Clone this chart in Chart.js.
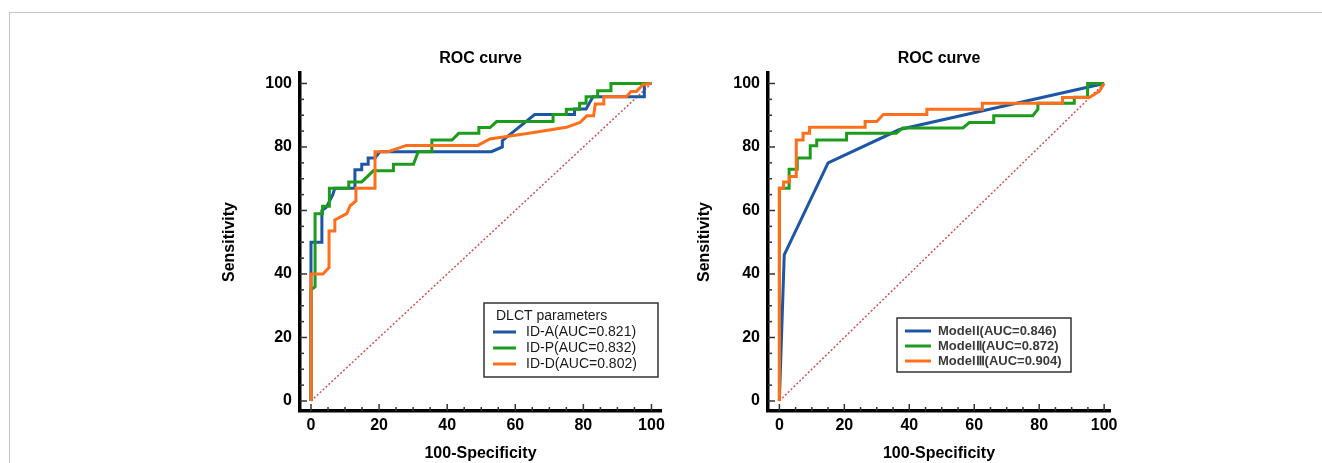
<!DOCTYPE html>
<html>
<head>
<meta charset="utf-8">
<script src="https://cdn.jsdelivr.net/npm/chart.js@4.4.1/dist/chart.umd.min.js"></script>
<style>
  html, body { margin: 0; padding: 0; background: #fff; width: 1322px; height: 463px; overflow: hidden; }
  #frame { position: absolute; left: 9px; top: 12px; right: 0; bottom: 0; border-top: 1px solid #c4c4c4; border-left: 1px solid #c4c4c4; }
  canvas { position: absolute; }
</style>
</head>
<body>
<div id="frame"></div>
<canvas id="c1" width="480" height="433" style="left:200px;top:30px;width:480px;height:433px"></canvas>
<canvas id="c2" width="460" height="433" style="left:680px;top:30px;width:460px;height:433px"></canvas>
<script>
// ---------- DATA ----------
const xTicks = [0, 20, 40, 60, 80, 100];
const yTicks = [0, 20, 40, 60, 80, 100];
const diagonal = [[0, 0], [100, 100]];

// Left chart: DLCT parameters
const leftLabels = ['ID-A(AUC=0.821)', 'ID-P(AUC=0.832)', 'ID-D(AUC=0.802)'];
const idA = [[0,0],[0,50],[3.2,50],[3.2,60],[4.5,61],[6.4,65],[7,67],[12.9,67],[12.9,72.8],[14.9,72.8],[14.9,74.6],[16.8,74.6],[16.8,76.5],[18.8,76.5],[20.2,78.5],[53,78.5],[56.2,80],[56.2,82],[65.7,90.2],[77.4,90.2],[77.4,92],[80.8,92],[82.8,95.8],[97.9,95.8],[97.9,100],[100,100]];
const idP = [[0,0],[0,35],[1.2,36],[1.2,59],[3.4,59],[3.4,61.3],[5.4,61.3],[5.4,67],[11.1,67],[11.1,69],[14.9,69],[18.3,72.5],[24.2,72.5],[24.2,74.6],[30.1,74.6],[31.5,78.5],[35.5,78.5],[35.5,82.2],[41.4,82.2],[43.4,84.3],[49.3,84.3],[49.3,86.1],[52.6,86.1],[54.5,88],[71.1,88],[71.1,90.2],[75,90.2],[75,91.9],[78.9,91.9],[78.9,93.8],[80.8,93.8],[80.8,95.8],[84.2,95.8],[84.2,97.7],[88.1,97.7],[88.1,100],[100,100]];
const idD = [[0,0],[0,40],[3.5,40],[5.3,42],[5.3,53.5],[7,53.5],[7,57],[10.5,59],[11.5,61.5],[13.2,63],[13.2,67],[18.8,67],[18.8,78.5],[22.7,78.5],[28,80.5],[49,80.5],[52.5,82.5],[64,84.3],[75,86.2],[79,87.7],[81,89.8],[83,89.8],[83.5,93.5],[86,93.5],[86,95.8],[92.6,95.8],[94,97.5],[95.6,97.5],[97.5,99.6],[100,100]];

// Right chart: Models
const rightLabels = ['Model\u2160(AUC=0.846)', 'Model\u2161(AUC=0.872)', 'Model\u2162(AUC=0.904)'];
const model1 = [[0,0],[1.5,46],[15,75],[37,85.5],[100,100]];
const model2 = [[0,0],[0,67],[3,67],[3,73],[5.5,73],[5.5,76.5],[9.5,76.5],[9.5,80.4],[11.5,80.4],[11.5,82.2],[20.7,82.2],[20.7,84.3],[36,84.3],[38,86],[56.5,86],[58.5,87.7],[66,87.7],[66,89.8],[78,89.8],[79.6,91.9],[79.6,93.8],[90.8,93.8],[90.8,95.7],[94.9,95.7],[94.9,100],[100,100]];
const model3 = [[0,0],[0,67],[1.3,67],[1.3,69],[3.1,69],[3.1,70.7],[5.2,70.7],[5.2,82.2],[7.3,82.2],[7.3,84.3],[9.3,84.3],[9.3,86.2],[26.4,86.2],[26.4,88],[30,88],[32,90.2],[45.4,90.2],[45.4,91.9],[62.5,91.9],[62.5,93.8],[87.2,93.8],[87.2,95.6],[95.4,95.6],[98.5,97.5],[100,100]];

// ---------- STYLE ----------
const FONT = '"Liberation Sans", Arial, sans-serif';
const BLUE = '#1d56a3', GREEN = '#1c9b1c', ORANGE = '#ff6f1c', DIAG = '#c8545a';
const toXY = arr => arr.map(p => ({ x: p[0], y: p[1] }));

const tickMarks = {
  id: 'tickMarks',
  afterDraw(chart) {
    const { ctx, chartArea: ca, scales: { x, y } } = chart;
    ctx.save();
    ctx.strokeStyle = '#333';
    ctx.lineWidth = 1.5;
    for (let v = 0; v <= 100; v += 5) {
      const L = v % 20 === 0 ? 7 : 4;
      const px = x.getPixelForValue(v);
      ctx.beginPath(); ctx.moveTo(px, ca.bottom); ctx.lineTo(px, ca.bottom - L); ctx.stroke();
      const py = y.getPixelForValue(v);
      ctx.beginPath(); ctx.moveTo(ca.left, py); ctx.lineTo(ca.left + L, py); ctx.stroke();
    }
    ctx.restore();
  }
};

const boxLegend = {
  id: 'boxLegend',
  afterDraw(chart, args, o) {
    const ctx = chart.ctx;
    ctx.save();
    ctx.strokeStyle = '#333';
    ctx.lineWidth = 1.5;
    ctx.strokeRect(o.box[0], o.box[1], o.box[2], o.box[3]);
    ctx.fillStyle = '#1a1a1a';
    ctx.textBaseline = 'middle';
    ctx.textAlign = 'left';
    if (o.title) {
      ctx.font = o.titleFont;
      ctx.fillText(o.title, o.titlePos[0], o.titlePos[1]);
    }
    ctx.font = o.font;
    const ds = chart.data.datasets.filter(d => !d.isDiag);
    ds.forEach((d, i) => {
      const yy = o.rows[i];
      ctx.strokeStyle = d.borderColor;
      ctx.lineWidth = 3;
      ctx.beginPath(); ctx.moveTo(o.sample[0], yy); ctx.lineTo(o.sample[1], yy); ctx.stroke();
      ctx.fillStyle = o.textColor || '#1a1a1a';
      ctx.fillText(d.label, o.textX, yy + 0.5);
    });
    ctx.restore();
  }
};

function makeChart(id, cfg) {
  const tickFont = { family: FONT, size: 16, weight: 'bold' };
  const datasets = cfg.series.map((s, i) => ({
    label: cfg.labels[i], data: toXY(s), borderColor: cfg.colors[i], borderWidth: 3,
    showLine: true, pointRadius: 0, fill: false, tension: 0, order: cfg.orders[i]
  }));
  datasets.push({ label: 'ref', isDiag: true, data: toXY(diagonal), borderColor: DIAG, borderWidth: 1.5,
    borderDash: [2, 2], showLine: true, pointRadius: 0, fill: false, order: 10 });
  return new Chart(document.getElementById(id), {
    type: 'scatter',
    data: { datasets },
    options: {
      responsive: false, animation: false, devicePixelRatio: 1,
      layout: { padding: { left: 0, right: cfg.padRight, top: 0, bottom: 0 } },
      plugins: {
        legend: { display: false }, tooltip: { enabled: false },
        title: { display: true, text: 'ROC curve', color: '#000', fullSize: false,
          font: { family: FONT, size: 16, weight: 'bold' }, padding: { top: 19, bottom: 4.8 } },
        boxLegend: cfg.legend
      },
      scales: {
        x: {
          type: 'linear', min: cfg.xMin, max: cfg.xMax,
          afterBuildTicks: s => { s.ticks = xTicks.map(v => ({ value: v })); },
          afterFit: s => { s.height = 52; },
          grid: { display: false, drawTicks: false },
          border: { display: true, color: '#000', width: 3.5 },
          ticks: { padding: 5, color: '#000', font: tickFont, maxRotation: 0, autoSkip: false },
          title: { display: true, text: '100-Specificity', color: '#000', font: tickFont, padding: { top: 0, bottom: 0 } }
        },
        y: {
          type: 'linear', min: -3.15, max: 103.3,
          afterBuildTicks: s => { s.ticks = yTicks.map(v => ({ value: v })); },
          afterFit: s => { s.width = cfg.yWidth; },
          grid: { display: false, drawTicks: false },
          border: { display: true, color: '#000', width: 3.5 },
          ticks: { padding: 8, color: '#000', font: tickFont, autoSkip: false },
          title: { display: true, text: 'Sensitivity', color: '#000', font: tickFont, padding: { top: cfg.yTitlePad, bottom: 0 } }
        }
      }
    },
    plugins: [tickMarks, boxLegend]
  });
}

makeChart('c1', {
  series: [idA, idP, idD], labels: leftLabels, colors: [BLUE, GREEN, ORANGE], orders: [2, 1, 0],
  xMin: -3.23, xMax: 102.8, padRight: 19, yWidth: 100, yTitlePad: 20.4,
  legend: { box: [284, 273, 174, 74], title: 'DLCT parameters', titlePos: [296, 286],
    titleFont: '14px ' + FONT, font: '14px ' + FONT, rows: [302, 318, 334], sample: [293, 316], textX: 326 }
});

makeChart('c2', {
  series: [model1, model2, model3], labels: rightLabels, colors: [BLUE, GREEN, ORANGE], orders: [2, 1, 0],
  xMin: -3.5, xMax: 101.8, padRight: 30, yWidth: 88, yTitlePad: 15,
  legend: { box: [217, 288, 174, 54], title: null,
    font: 'bold 13px ' + FONT, rows: [301, 316, 331], sample: [225, 251], textX: 258, textColor: '#3a3a3a' }
});
</script>
</body>
</html>
